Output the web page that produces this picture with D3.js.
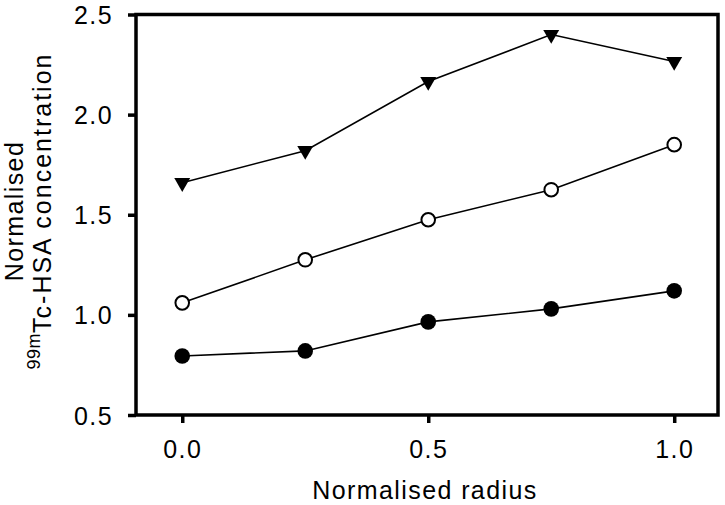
<!DOCTYPE html>
<html>
<head>
<meta charset="utf-8">
<script src="https://cdn.jsdelivr.net/npm/d3@7"></script>
<style>
  body { margin: 0; background: #fff; }
  text { font-family: "Liberation Sans", Arial, sans-serif; fill: #000; }
</style>
</head>
<body>
<svg id="chart" width="725" height="505"></svg>
<script>
const radius = [0, 0.25, 0.5, 0.75, 1.0];
const filledCircle = [0.795, 0.82, 0.965, 1.03, 1.12];
const openCircle = [1.06, 1.275, 1.475, 1.625, 1.85];
const triangle = [1.66, 1.82, 2.165, 2.4, 2.265];
const xTicks = [0, 0.5, 1.0];
const yTicks = [0.5, 1.0, 1.5, 2.0, 2.5];

const svg = d3.select('#chart');
const plotL = 136, plotR = 718, plotT = 14.5, plotB = 415;

const x = d3.scaleLinear().domain([-0.094, 1.089]).range([plotL, plotR]);
const y = d3.scaleLinear().domain([0.5, 2.5]).range([plotB, plotT]);

// frame
svg.append('rect')
  .attr('x', plotL).attr('y', plotT)
  .attr('width', plotR - plotL).attr('height', plotB - plotT)
  .attr('fill', 'none').attr('stroke', '#000').attr('stroke-width', 3.5);

const yAxis = svg.append('g')
  .attr('transform', `translate(${plotL},0)`)
  .call(d3.axisLeft(y).tickValues(yTicks).tickFormat(d3.format('.1f')).tickSize(8).tickPadding(15));
yAxis.select('.domain').remove();
yAxis.selectAll('line').attr('stroke-width', 3.5);
yAxis.selectAll('text')
  .style('font-size', '25px').style('letter-spacing', '1.4px')
  .attr('font-family', null).attr('dy', '0.36em');

const xAxis = svg.append('g')
  .attr('transform', `translate(0,${plotB})`)
  .call(d3.axisBottom(x).tickValues(xTicks).tickFormat(d3.format('.1f')).tickSize(8).tickPadding(17));
xAxis.select('.domain').remove();
xAxis.selectAll('line').attr('stroke-width', 3.5);
xAxis.selectAll('text')
  .style('font-size', '25px').style('letter-spacing', '1.4px')
  .attr('font-family', null);

// axis titles
svg.append('text')
  .attr('x', (plotL + plotR) / 2 - 2).attr('y', 499)
  .attr('text-anchor', 'middle')
  .style('font-size', '25px').style('letter-spacing', '1.4px')
  .text('Normalised radius');

const yt = svg.append('g').attr('transform', 'translate(0,211) rotate(-90)');
yt.append('text')
  .attr('x', 0).attr('y', 23)
  .attr('text-anchor', 'middle')
  .style('font-size', '25px').style('letter-spacing', '1.4px')
  .text('Normalised');
const t2 = yt.append('text')
  .attr('x', 0).attr('y', 48)
  .attr('text-anchor', 'middle')
  .style('font-size', '25px').style('letter-spacing', '2px');
t2.append('tspan').attr('dy', '-0.45em').style('font-size', '18px').style('letter-spacing', '0.5px').text('99m');
t2.append('tspan').attr('dy', '0.45em').text('Tc-HSA concentration');

const line = d3.line().x((d, i) => x(radius[i])).y(d => y(d));

const series = [
  { values: filledCircle, shape: 'filled' },
  { values: openCircle, shape: 'open' },
  { values: triangle, shape: 'tri' }
];

series.forEach(s => {
  svg.append('path')
    .attr('d', line(s.values))
    .attr('fill', 'none').attr('stroke', '#000').attr('stroke-width', 1.6);
});

const tri = d3.symbol().type(d3.symbolTriangle).size(110)();

series.forEach(s => {
  const g = svg.append('g');
  s.values.forEach((v, i) => {
    if (s.shape === 'tri') {
      g.append('path')
        .attr('d', tri)
        .attr('transform', `translate(${x(radius[i])},${y(v)}) rotate(180)`)
        .attr('fill', '#000');
    } else {
      g.append('circle')
        .attr('cx', x(radius[i])).attr('cy', y(v))
        .attr('r', s.shape === 'filled' ? 7.8 : 6.8)
        .attr('fill', s.shape === 'filled' ? '#000' : '#fff')
        .attr('stroke', '#000').attr('stroke-width', s.shape === 'filled' ? 0 : 2);
    }
  });
});
</script>
</body>
</html>
